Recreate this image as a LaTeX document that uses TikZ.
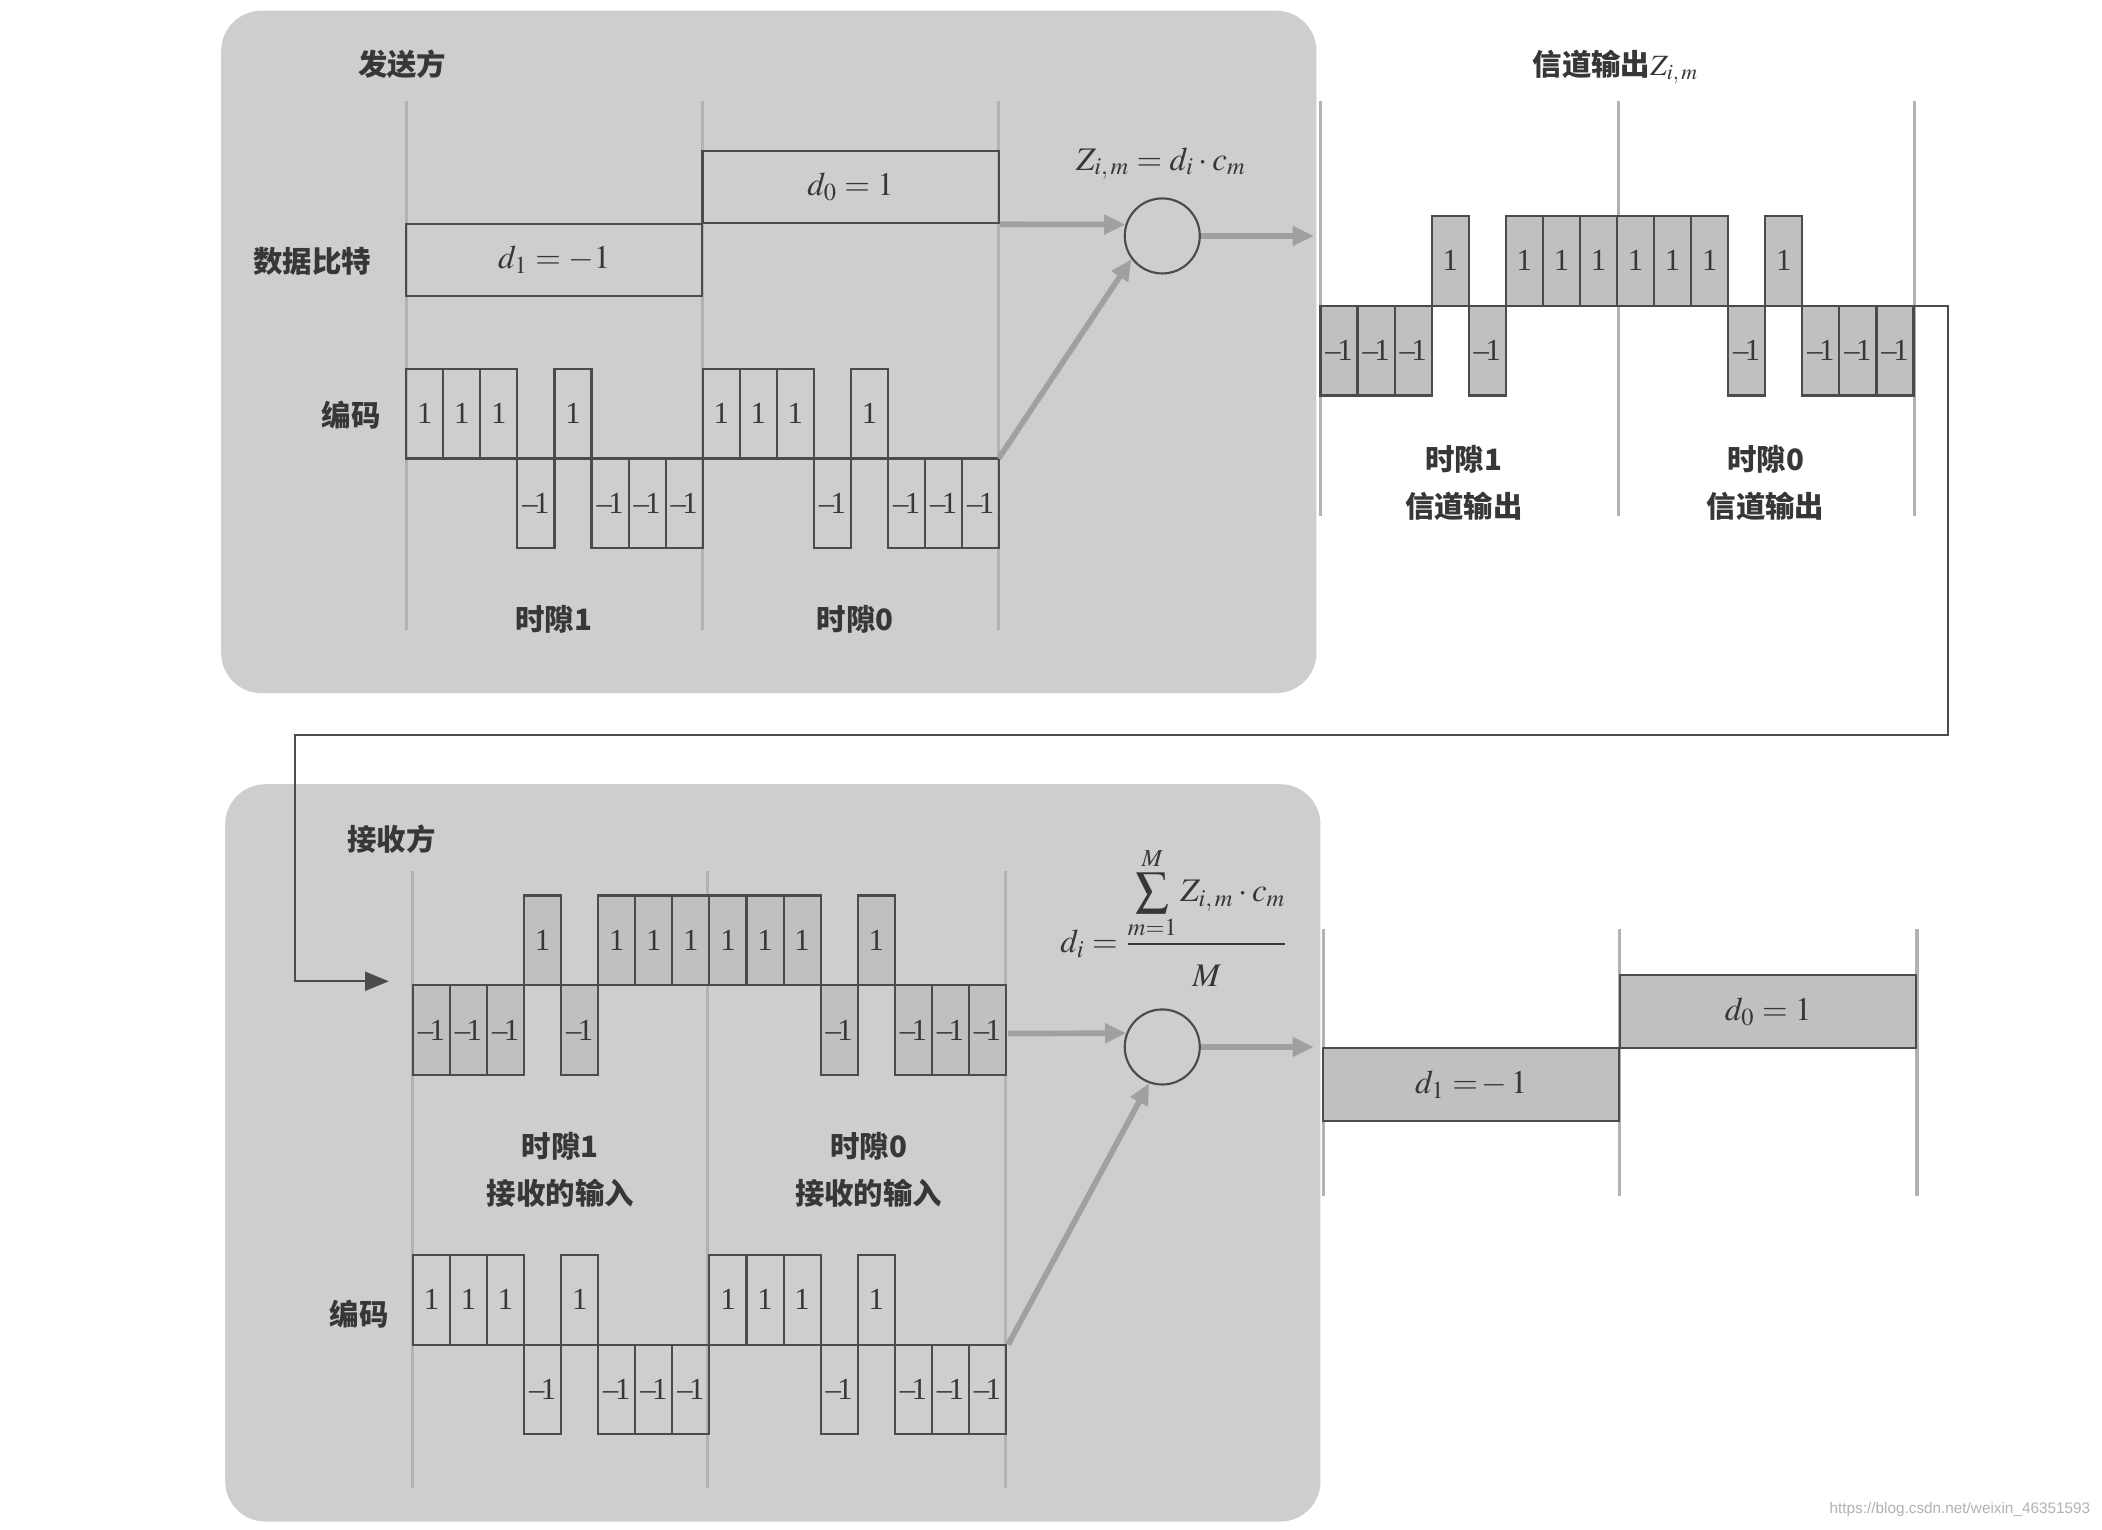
\documentclass[tikz,border=0pt]{standalone}
\usepackage{mathptmx}
\usepackage{fontspec}
\setmainfont{Liberation Serif}
\newfontfamily\cjk{Noto Sans CJK SC}
\newfontfamily\wmfont{Liberation Sans}
\usetikzlibrary{arrows.meta}

\definecolor{panelgray}{RGB}{206,206,206}
\definecolor{chipgray}{RGB}{192,192,192}
\definecolor{linegray}{RGB}{75,75,75}
\definecolor{slotgray}{RGB}{178,178,178}
\definecolor{arrowgray}{RGB}{160,160,160}
\definecolor{textgray}{RGB}{55,55,55}

\tikzset{
  panel/.style={fill=panelgray, rounded corners=0.6cm},
  slotline/.style={draw=slotgray, line width=1.3pt},
  chip/.style={draw=linegray, line width=0.9pt},
  chiplbl/.style={font=\fontsize{13}{13}\selectfont, text=textgray, inner sep=0pt},
  bitbox/.style={draw=linegray, line width=0.9pt, minimum width=4.42cm, minimum height=1.08cm,
    inner sep=0pt, text=textgray, font=\fontsize{14}{14}\selectfont},
  mult/.style={circle, draw=linegray, line width=0.9pt, minimum size=1.12cm, inner sep=0pt},
  flow/.style={draw=arrowgray, line width=2.4pt, -{Triangle[length=9pt,width=8pt]}},
  feed/.style={draw=linegray, line width=0.9pt, -{Triangle[length=10pt,width=8pt]}},
  cnlbl/.style={font=\fontsize{12.5}{20}\cjk\bfseries, text=textgray, align=center, inner sep=0pt},
  mathlbl/.style={font=\fontsize{14}{16}\selectfont, text=textgray, inner sep=0pt},
}

% one row of chips: name, left x, baseline y, fill, values
\newcommand{\chiprow}[5]{%
  \foreach \v [count=\i from 0] in {#5} {
    \draw[chip, fill=#4] ({#2+\i*27.65},#3) rectangle ++(27.65,{-67*\v});
    \node[chiplbl] (#1-\i) at ({#2+(\i+0.5)*27.65},{#3-33.5*\v})
      {\ifnum\v>0 1\else\textendash\kern-1.5pt1\fi};
  }%
}

\begin{document}
\begin{tikzpicture}[x=0.02cm, y=-0.02cm]
\useasboundingbox[fill=white] (0,0) rectangle (1568,1141);
% Panels
\fill[panel] (165,8) rectangle (982,517);
\fill[panel] (168,585) rectangle (985,1135);
% Slot lines
\foreach \x in {303,524,745} \draw[slotline] (\x,75) -- (\x,470);
\foreach \x in {985,1207,1428} \draw[slotline] (\x,75) -- (\x,385);
\foreach \x in {308,528,750} \draw[slotline] (\x,650) -- (\x,1110);
\foreach \x in {987,1208,1430} \draw[slotline] (\x,693) -- (\x,892);

% Sender
\node[cnlbl] (tx) at (300,48) {发送方};
\node[cnlbl] (txBitsLbl) at (233,195) {数据比特};
\node[cnlbl] (txCodeLbl) at (262,310) {编码};
\node[bitbox] (txD1) at (413.5,194) {$d_1=-1$};
\node[bitbox] (txD0) at (634.5,139.5) {$d_0=1$};
\chiprow{txc}{303}{342}{none}{1,1,1,-1,1,-1,-1,-1,1,1,1,-1,1,-1,-1,-1}
\node[cnlbl] (txSlot1) at (413,462) {时隙1};
\node[cnlbl] (txSlot0) at (638,462) {时隙0};

% Multiplier
\node[mult] (mulA) at (867,176) {};
\node[mathlbl] (fmA) at (866,122) {$Z_{i,\,m}=d_i\cdot c_m$};
\coordinate (txCodeEnd) at (745,342);
\coordinate (chanIn) at (980,176);
\draw[flow] (txD0.south east) -- (mulA.163);
\draw[flow] (txCodeEnd) -- (mulA.217);
\draw[flow] (mulA.east) -- (chanIn);

% Channel output
\node[cnlbl] (chan) at (1205,50) {信道输出$Z_{i,\,m}$};
\chiprow{ch}{985}{228}{chipgray}{-1,-1,-1,1,-1,1,1,1,1,1,1,-1,1,-1,-1,-1}
\node[cnlbl] (chSlot1) at (1092,360) {时隙1\\信道输出};
\node[cnlbl] (chSlot0) at (1317,360) {时隙0\\信道输出};

% Feed to receiver
\coordinate (chanEnd) at (1428,228);
\coordinate (rxIn) at (290,732);
\draw[feed] (chanEnd) -- (1453,228) -- (1453,548) -- (220,548) -- (220,732) -- (rxIn);

% Receiver
\node[cnlbl] (rx) at (292,626) {接收方};
\chiprow{rxs}{308}{735}{chipgray}{-1,-1,-1,1,-1,1,1,1,1,1,1,-1,1,-1,-1,-1}
\node[cnlbl] (rxSlot1) at (418,873) {时隙1\\接收的输入};
\node[cnlbl] (rxSlot0) at (648,873) {时隙0\\接收的输入};
\node[cnlbl] (rxCodeLbl) at (268,980) {编码};
\chiprow{rxc}{308}{1003}{none}{1,1,1,-1,1,-1,-1,-1,1,1,1,-1,1,-1,-1,-1}

% Correlator
\node[mult] (mulB) at (867,781) {};
\node[mathlbl] (fmB) at (876,684)
  {$\displaystyle d_i=\frac{\displaystyle\sum_{m=1}^{M}Z_{i,\,m}\cdot c_m}{\rule{0pt}{16pt}M}$};
\coordinate (rxSigEnd) at (752,771);
\coordinate (rxCodeEnd) at (752,1003);
\coordinate (outIn) at (980,781);
\draw[flow] (rxSigEnd) -- (mulB.159);
\draw[flow] (rxCodeEnd) -- (mulB.250);
\draw[flow] (mulB.east) -- (outIn);

% Decoded bits
\node[bitbox, fill=chipgray] (rxD1) at (1097.5,809) {$d_1=\!-\,1$};
\node[bitbox, fill=chipgray] (rxD0) at (1319,754.5) {$d_0=1$};

% Watermark
\node[font=\fontsize{6.5}{7}\wmfont, text=black!30, inner sep=0pt] (wm) at (1462,1126)
  {https://blog.csdn.net/weixin\_46351593};
\end{tikzpicture}
\end{document}
